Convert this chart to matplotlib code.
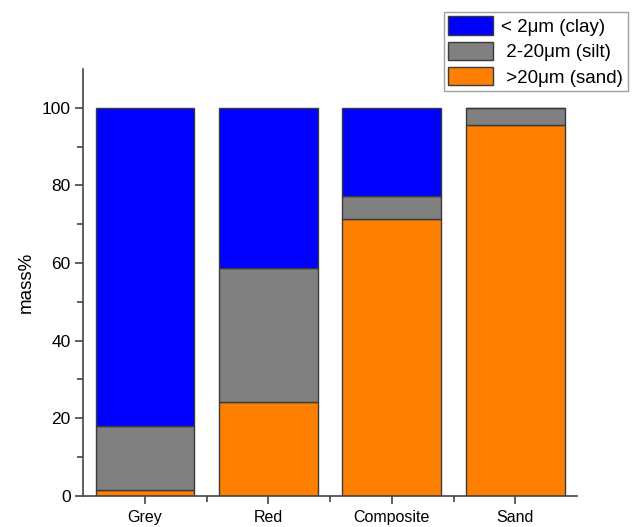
import matplotlib
matplotlib.use("Agg")
import matplotlib.pyplot as plt
from matplotlib.patches import Patch
import numpy as np

plt.rcParams['font.family'] = ['Liberation Sans', 'DejaVu Sans']

categories = ["Grey", "Red", "Composite", "Sand"]
sand = [1.5, 24.2, 71.3, 95.6]
silt = [16.5, 34.5, 6.1, 4.4]
clay = [82.0, 41.3, 22.6, 0.0]
labels = ["< 2\u03bcm (clay)", " 2-20\u03bcm (silt)", " >20\u03bcm (sand)"]
colors = ["#0000FF", "#808080", "#FF8000"]

fig = plt.figure(figsize=(6.41, 5.27), dpi=100)
ax = fig.add_axes([0.130, 0.059, 0.770, 0.810])

x = np.arange(1, len(categories) + 1)
w = 0.8
ec = "#3a3a3a"
ax.bar(x, sand, w, color=colors[2], edgecolor=ec, linewidth=1)
ax.bar(x, silt, w, bottom=sand, color=colors[1], edgecolor=ec, linewidth=1)
bot2 = np.array(sand) + np.array(silt)
ax.bar(x, clay, w, bottom=bot2, color=colors[0], edgecolor=ec, linewidth=1)

ax.set_xlim(0.5, 4.5)
ax.set_ylim(0, 110)
ax.set_xticks(x)
ax.set_xticklabels(categories, fontsize=11.5)
ax.set_xticks([1.5, 2.5, 3.5], minor=True)
ax.set_yticks([0, 20, 40, 60, 80, 100])
ax.set_yticks([10, 30, 50, 70, 90], minor=True)
ax.tick_params(axis='x', which='major', labelsize=11.5, length=6, width=1.2, color="#444444", pad=4)
ax.tick_params(axis='y', which='major', labelsize=12.5, length=6, width=1.2, color="#444444", pad=3)
ax.tick_params(axis='both', which='minor', length=4, width=1.2, color="#444444")
ax.set_ylabel("mass%", fontsize=13.5, labelpad=5)
for s in ["top", "right"]:
    ax.spines[s].set_visible(False)
for s in ["left", "bottom"]:
    ax.spines[s].set_color("#444444")
    ax.spines[s].set_linewidth(1.2)

handles = [Patch(facecolor=c, edgecolor=ec) for c in colors]
leg = fig.legend(handles, labels, loc="upper right", bbox_to_anchor=(0.979, 0.978),
                 fontsize=13.5, frameon=True, fancybox=False, handlelength=2.4,
                 handleheight=1.15, handletextpad=0.4, labelspacing=0.3,
                 borderpad=0.25, borderaxespad=0, edgecolor="#888888")
leg.get_frame().set_linewidth(1)

fig.savefig("out.png", dpi=100)
